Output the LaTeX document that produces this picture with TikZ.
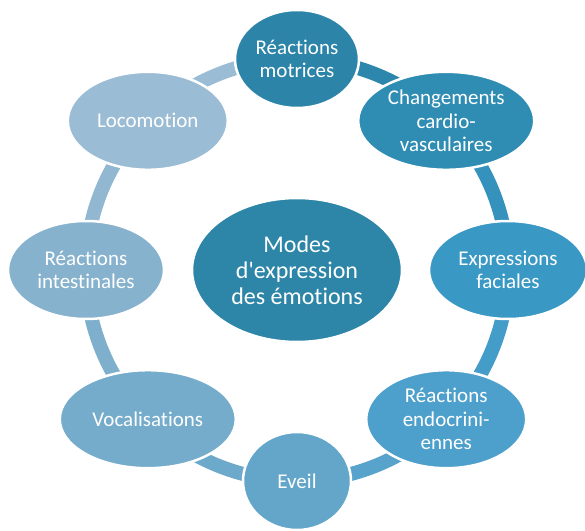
\documentclass[tikz,border=0pt]{standalone}
\usepackage{fontspec}
\setmainfont{Carlito}[Ligatures={NoCommon,NoContextual}, Contextuals=NoAlternate]
\usepackage{xcolor}
\usepackage{tikz}
\usetikzlibrary{shapes,positioning,backgrounds}

\definecolor{c0}{HTML}{2D86A8}
\definecolor{c1}{HTML}{2C85A8}
\definecolor{c2}{HTML}{2F8DB4}
\definecolor{c3}{HTML}{3A98C5}
\definecolor{c4}{HTML}{4EA0CC}
\definecolor{c5}{HTML}{63A6CA}
\definecolor{c6}{HTML}{75ABCB}
\definecolor{c7}{HTML}{87B2CE}
\definecolor{c8}{HTML}{9BBCD5}

\begin{document}
\begin{tikzpicture}[x=1pt, y=1pt,
    mode/.style={ellipse, draw=white, line width=2.5pt, text=white, align=center, inner sep=0pt, minimum height=98pt, font=\fontsize{21}{23.5}\selectfont},
    hub/.style={mode, minimum width=210pt, minimum height=144pt, font=\fontsize{24}{26}\selectfont},
    link/.style={line width=14pt, bend left=22.5, looseness=0.885}
]
\useasboundingbox (-297,-260) rectangle (288,270);

\node (modes) [hub, fill=c0] at (0,0) {Modes\\d\textquotesingle expression\\des émotions};

\node (motr) [mode, fill=c1, minimum width=124pt] at (90:211) {Réactions\\motrices};
\node (cardio) [mode, fill=c2, minimum width=176pt] at (45:211) {Changements\\cardio-\\vasculaires};
\node (facial) [mode, fill=c3, minimum width=158pt] at (0:211) {Expressions\\faciales};
\node (endo) [mode, fill=c4, minimum width=160pt] at (-45:211) {Réactions\\endocrini-\\ennes};
\node (eveil) [mode, fill=c5, minimum width=108pt] at (-90:211) {Eveil};
\node (vocal) [mode, fill=c6, minimum width=176pt] at (-135:211) {Vocalisations};
\node (intest) [mode, fill=c7, minimum width=156pt] at (180:211) {Réactions\\intestinales};
\node (loco) [mode, fill=c8, minimum width=160pt] at (135:211) {Locomotion};

\begin{scope}[on background layer]
\draw [link, draw=c1!70!c2] (motr.center) to (cardio.center);
\draw [link, draw=c2!50!c3] (cardio.center) to (facial.center);
\draw [link, draw=c3!50!c4] (facial.center) to (endo.center);
\draw [link, draw=c4!50!c5] (endo.center) to (eveil.center);
\draw [link, draw=c5!50!c6] (eveil.center) to (vocal.center);
\draw [link, draw=c6!50!c7] (vocal.center) to (intest.center);
\draw [link, draw=c7!50!c8] (intest.center) to (loco.center);
\draw [link, draw=c8] (loco.center) to (motr.center);
\end{scope}

\end{tikzpicture}
\end{document}
